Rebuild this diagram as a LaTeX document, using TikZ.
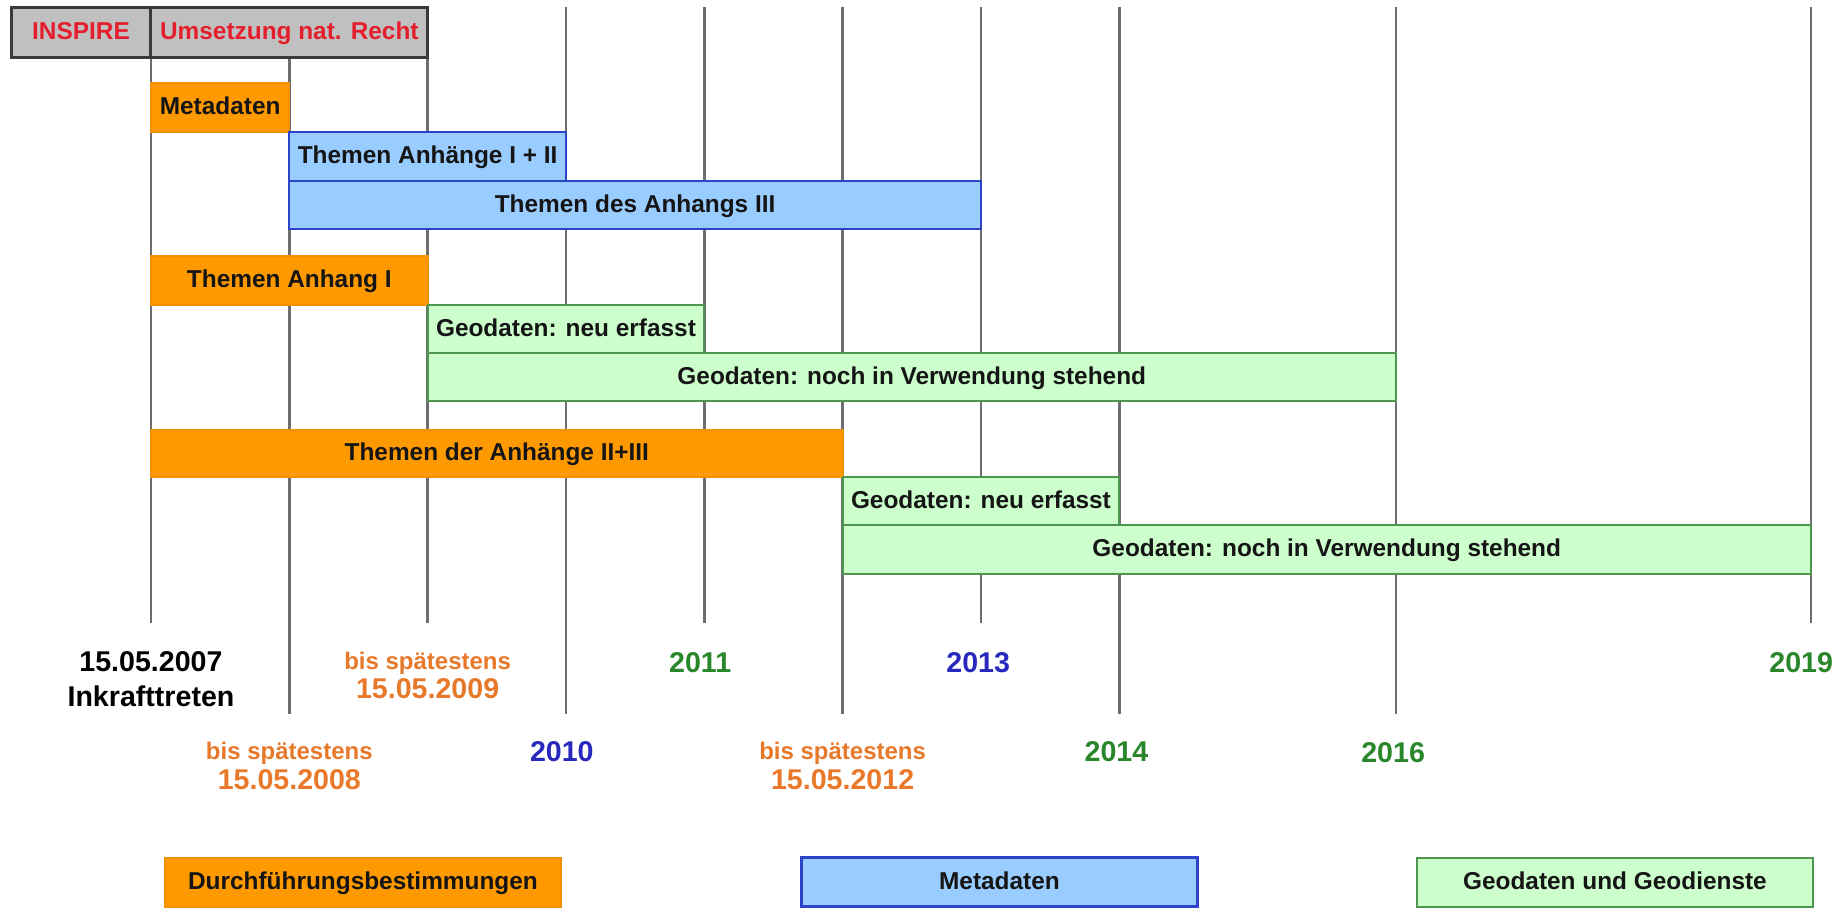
\documentclass[tikz,border=0pt]{standalone}
\usepackage{fontspec}
\setmainfont{Liberation Sans}
\usetikzlibrary{fit}
\definecolor{ink}{HTML}{151515}
\definecolor{grid}{HTML}{6E6E6E}
\definecolor{headfill}{HTML}{C0C0C0}
\definecolor{headline}{HTML}{3A3A3A}
\definecolor{headred}{HTML}{E41E2C}
\definecolor{dbfill}{HTML}{FF9900}
\definecolor{dbline}{HTML}{F39200}
\definecolor{mdfill}{HTML}{99CCFF}
\definecolor{mdline}{HTML}{2E44C8}
\definecolor{gdfill}{HTML}{CCFFCC}
\definecolor{gdline}{HTML}{4F964F}
\definecolor{dateorange}{HTML}{E8782A}
\definecolor{yearblue}{HTML}{2828BE}
\definecolor{yeargreen}{HTML}{2A862A}
\tikzset{
  bartext/.style={inner sep=0pt, text=ink, text height=0.95em, text depth=0.234em,
                  font=\bfseries\fontsize{12.2}{14}\selectfont},
  bar/.style={inner sep=0pt, line width=1pt},
  dbbar/.style={bar, draw=dbline, fill=dbfill},
  mdbar/.style={bar, draw=mdline, fill=mdfill},
  gdbar/.style={bar, draw=gdline, fill=gdfill},
  headcell/.style={bar, draw=headline, fill=headfill, line width=1.5pt},
  yearline/.style={draw=grid, line width=1.25pt},
  datelabel/.style={align=center, inner sep=0pt, font=\bfseries\fontsize{14.3}{17.5}\selectfont},
  yearlabel/.style={inner sep=0pt, font=\bfseries\fontsize{14.3}{17.5}\selectfont}
}

\begin{document}
\begin{tikzpicture}[x=69.165pt,y=-0.5pt]
  \useasboundingbox (-1.0916,0) rectangle (12.2395,918);

  % year lines (x = years after 2007)
  \foreach \yr/\ytop/\ybot in {0/57/623,1/57/714,2/57/623,3/7/714,4/7/623,
                               5/7/714,6/7/623,7/7/714,9/7/714,12/7/623}
    \draw[yearline] (\yr,\ytop) -- (\yr,\ybot);

  % header
  \node[headcell, fit={(-1.012,7) (0,57)},
        label={[bartext, text=headred]center:INSPIRE}] (inspire) {};
  \node[headcell, fit={(0,7) (2,57)},
        label={[bartext, text=headred]center:Umsetzung nat. Recht}] (recht) {};

  % bars
  \node[dbbar, fit={(0,83) (1,132)}, label={[bartext]center:Metadaten}] (dbmeta) {};
  \node[mdbar, fit={(1,132) (3,181)}, label={[bartext]center:Themen Anhänge I + II}] (mdone) {};
  \node[mdbar, fit={(1,181) (6,229)}, label={[bartext]center:Themen des Anhangs III}] (mdthree) {};
  \node[dbbar, fit={(0,256) (2,305)}, label={[bartext]center:Themen Anhang I}] (dbone) {};
  \node[gdbar, fit={(2,305) (4,353)}, label={[bartext]center:Geodaten: neu erfasst}] (gdnewone) {};
  \node[gdbar, fit={(2,353) (9,401)},
        label={[bartext]center:Geodaten: noch in Verwendung stehend}] (gdoldone) {};
  \node[dbbar, fit={(0,430) (5,477)}, label={[bartext]center:Themen der Anhänge II+III}] (dbtwo) {};
  \node[gdbar, fit={(5,477) (7,525)}, label={[bartext]center:Geodaten: neu erfasst}] (gdnewtwo) {};
  \node[gdbar, fit={(5,525) (12,574)},
        label={[bartext]center:Geodaten: noch in Verwendung stehend}] (gdoldtwo) {};

  % dates
  \node[datelabel, text=black] (inkraft) at (0,679.5) {15.05.2007\\Inkrafttreten};
  \node[datelabel, text=dateorange] (frist08) at (1,766)
    {{\fontsize{12}{14}\selectfont bis spätestens}\\[-2.75pt]15.05.2008};
  \node[datelabel, text=dateorange] (frist09) at (2,675.5)
    {{\fontsize{12}{14}\selectfont bis spätestens}\\[-2.75pt]15.05.2009};
  \node[datelabel, text=dateorange] (frist12) at (5,766)
    {{\fontsize{12}{14}\selectfont bis spätestens}\\[-2.75pt]15.05.2012};
  \node[yearlabel, text=yearblue] (jahr10) at (2.97,751.5) {2010};
  \node[yearlabel, text=yeargreen] (jahr11) at (3.97,662.5) {2011};
  \node[yearlabel, text=yearblue] (jahr13) at (5.98,662.5) {2013};
  \node[yearlabel, text=yeargreen] (jahr14) at (6.98,751.5) {2014};
  \node[yearlabel, text=yeargreen] (jahr16) at (8.98,752.5) {2016};
  \node[yearlabel, text=yeargreen] (jahr19) at (11.93,663) {2019};

  % legend
  \node[dbbar, fit={(0.101,858) (2.964,907)},
        label={[bartext]center:Durchführungsbestimmungen}] (legdb) {};
  \node[mdbar, line width=1.5pt, fit={(4.706,858) (7.562,907)},
        label={[bartext]center:Metadaten}] (legmd) {};
  \node[gdbar, fit={(9.152,858) (12.015,907)},
        label={[bartext]center:Geodaten und Geodienste}] (leggd) {};
\end{tikzpicture}
\end{document}
